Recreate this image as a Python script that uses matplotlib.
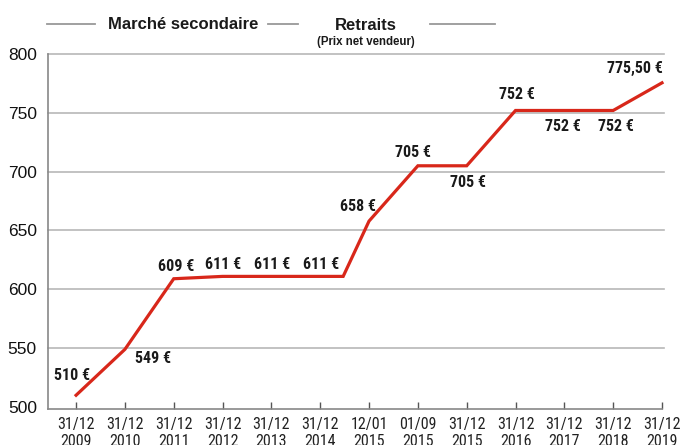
import matplotlib
matplotlib.use("Agg")
import matplotlib.pyplot as plt
from matplotlib.lines import Line2D

dates = ["31/12\n2009", "31/12\n2010", "31/12\n2011", "31/12\n2012", "31/12\n2013",
         "31/12\n2014", "12/01\n2015", "01/09\n2015", "31/12\n2015", "31/12\n2016",
         "31/12\n2017", "31/12\n2018", "31/12\n2019"]
# x position of each point along the category axis (as drawn in the reference)
x_pos = [0, 1, 2, 3, 4, 5.47, 6, 7, 8, 9, 10, 11, 12]
prices = [510, 549, 609, 611, 611, 611, 658, 705, 705, 752, 752, 752, 775.5]
labels = ["510 €", "549 €", "609 €", "611 €", "611 €", "611 €", "658 €", "705 €",
          "705 €", "752 €", "752 €", "752 €", "775,50 €"]
yticks = [500, 550, 600, 650, 700, 750, 800]

# label offsets in pixels (dx, dy up), relative to the tick position
offsets = [(-4, 20), (28, -9), (2, 12), (1, 12), (1, 12), (1, 12), (-11, 15),
           (-5, 13), (1, -17), (1, 16), (-1, -16), (3, -16), (-27, 14)]

NARROW = ["Roboto Condensed", "DejaVu Sans"]
WIDE = ["Liberation Sans", "DejaVu Sans"]
RED = "#d8271a"
GRAY = "#999999"

fig = plt.figure(figsize=(6.8, 4.45), dpi=100)
ax = fig.add_axes([48 / 680, 1 - 409 / 445, (662 - 48) / 680, (409 - 54) / 445])

ticks = list(range(len(dates)))
ax.plot(x_pos, prices, color=RED, lw=2.3, solid_joinstyle="miter", zorder=3, clip_on=False)

ax.set_xlim(-0.575, 12)
ax.set_ylim(498.3, 800)
ax.set_yticks(yticks)
ax.set_yticklabels([str(v) for v in yticks], fontsize=12.5, family=WIDE, color="#111111")
ax.set_xticks(ticks)
ax.set_xticklabels(dates, fontsize=11.5, family=NARROW, color="#222222", linespacing=1.15)
for yv in yticks[1:]:
    ax.axhline(yv, xmin=0, xmax=1.003, color="#b8b8b8", lw=1.2, zorder=1, clip_on=False)

for s in ["top", "right"]:
    ax.spines[s].set_visible(False)
for s in ["left", "bottom"]:
    ax.spines[s].set_color("#888888")
    ax.spines[s].set_linewidth(1.2)
ax.tick_params(axis="y", length=0, pad=8)
ax.tick_params(axis="x", direction="in", length=5, width=1, color="#555555", pad=6)

for xi, yi, lab, (dx, dy) in zip(ticks, prices, labels, offsets):
    ax.annotate(lab, (xi, yi), xytext=(dx * 0.72, dy * 0.72), textcoords="offset points",
                ha="center", va="center", fontsize=11.5, fontweight="bold",
                family=NARROW, color="#1a1a1a", zorder=4)

# header
def hline(x0, x1, y):
    fig.add_artist(Line2D([x0 / 680, x1 / 680], [1 - y / 445, 1 - y / 445], color=GRAY, lw=1.3))

hline(47, 95, 24)
hline(268, 298, 24)
hline(430, 495, 24)
fig.text(183.5 / 680, 1 - 29 / 445, "Marché secondaire", ha="center", va="baseline",
         fontsize=12, fontweight="bold", family=WIDE, color="#1a1a1a")
fig.text(366 / 680, 1 - 30 / 445, "Retraits", ha="center", va="baseline",
         fontsize=12, fontweight="bold", family=WIDE, color="#1a1a1a")
fig.text(366 / 680, 1 - 41.5 / 445, "(Prix net vendeur)", ha="center", va="center",
         fontsize=8.3, fontweight="bold", family=WIDE, color="#1a1a1a")

fig.savefig("out.png", dpi=100)
